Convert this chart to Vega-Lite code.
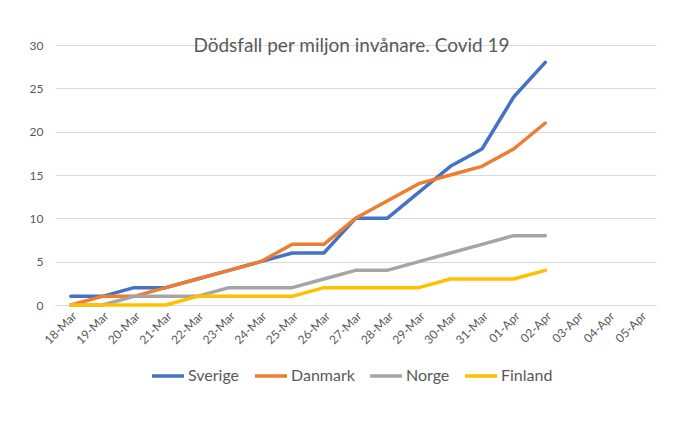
{
  "$schema": "https://vega.github.io/schema/vega-lite/v6.json",
  "width": 601,
  "height": 260,
  "autosize": {"type": "none"},
  "padding": {"left": 55, "top": 45, "right": 44, "bottom": 120},
  "background": "white",
  "title": {
    "text": "Dödsfall per miljon invånare. Covid 19",
    "anchor": "middle",
    "frame": "group",
    "offset": -17,
    "dx": -4,
    "font": "Lato",
    "fontSize": 19,
    "fontWeight": "normal",
    "color": "#595959"
  },
  "data": {
    "values": [
      {"land": "Sverige", "datum": "18-Mar", "v": 1},
      {"land": "Sverige", "datum": "19-Mar", "v": 1},
      {"land": "Sverige", "datum": "20-Mar", "v": 2},
      {"land": "Sverige", "datum": "21-Mar", "v": 2},
      {"land": "Sverige", "datum": "22-Mar", "v": 3},
      {"land": "Sverige", "datum": "23-Mar", "v": 4},
      {"land": "Sverige", "datum": "24-Mar", "v": 5},
      {"land": "Sverige", "datum": "25-Mar", "v": 6},
      {"land": "Sverige", "datum": "26-Mar", "v": 6},
      {"land": "Sverige", "datum": "27-Mar", "v": 10},
      {"land": "Sverige", "datum": "28-Mar", "v": 10},
      {"land": "Sverige", "datum": "29-Mar", "v": 13},
      {"land": "Sverige", "datum": "30-Mar", "v": 16},
      {"land": "Sverige", "datum": "31-Mar", "v": 18},
      {"land": "Sverige", "datum": "01-Apr", "v": 24},
      {"land": "Sverige", "datum": "02-Apr", "v": 28},
      {"land": "Danmark", "datum": "18-Mar", "v": 0},
      {"land": "Danmark", "datum": "19-Mar", "v": 1},
      {"land": "Danmark", "datum": "20-Mar", "v": 1},
      {"land": "Danmark", "datum": "21-Mar", "v": 2},
      {"land": "Danmark", "datum": "22-Mar", "v": 3},
      {"land": "Danmark", "datum": "23-Mar", "v": 4},
      {"land": "Danmark", "datum": "24-Mar", "v": 5},
      {"land": "Danmark", "datum": "25-Mar", "v": 7},
      {"land": "Danmark", "datum": "26-Mar", "v": 7},
      {"land": "Danmark", "datum": "27-Mar", "v": 10},
      {"land": "Danmark", "datum": "28-Mar", "v": 12},
      {"land": "Danmark", "datum": "29-Mar", "v": 14},
      {"land": "Danmark", "datum": "30-Mar", "v": 15},
      {"land": "Danmark", "datum": "31-Mar", "v": 16},
      {"land": "Danmark", "datum": "01-Apr", "v": 18},
      {"land": "Danmark", "datum": "02-Apr", "v": 21},
      {"land": "Norge", "datum": "18-Mar", "v": 0},
      {"land": "Norge", "datum": "19-Mar", "v": 0},
      {"land": "Norge", "datum": "20-Mar", "v": 1},
      {"land": "Norge", "datum": "21-Mar", "v": 1},
      {"land": "Norge", "datum": "22-Mar", "v": 1},
      {"land": "Norge", "datum": "23-Mar", "v": 2},
      {"land": "Norge", "datum": "24-Mar", "v": 2},
      {"land": "Norge", "datum": "25-Mar", "v": 2},
      {"land": "Norge", "datum": "26-Mar", "v": 3},
      {"land": "Norge", "datum": "27-Mar", "v": 4},
      {"land": "Norge", "datum": "28-Mar", "v": 4},
      {"land": "Norge", "datum": "29-Mar", "v": 5},
      {"land": "Norge", "datum": "30-Mar", "v": 6},
      {"land": "Norge", "datum": "31-Mar", "v": 7},
      {"land": "Norge", "datum": "01-Apr", "v": 8},
      {"land": "Norge", "datum": "02-Apr", "v": 8},
      {"land": "Finland", "datum": "18-Mar", "v": 0},
      {"land": "Finland", "datum": "19-Mar", "v": 0},
      {"land": "Finland", "datum": "20-Mar", "v": 0},
      {"land": "Finland", "datum": "21-Mar", "v": 0},
      {"land": "Finland", "datum": "22-Mar", "v": 1},
      {"land": "Finland", "datum": "23-Mar", "v": 1},
      {"land": "Finland", "datum": "24-Mar", "v": 1},
      {"land": "Finland", "datum": "25-Mar", "v": 1},
      {"land": "Finland", "datum": "26-Mar", "v": 2},
      {"land": "Finland", "datum": "27-Mar", "v": 2},
      {"land": "Finland", "datum": "28-Mar", "v": 2},
      {"land": "Finland", "datum": "29-Mar", "v": 2},
      {"land": "Finland", "datum": "30-Mar", "v": 3},
      {"land": "Finland", "datum": "31-Mar", "v": 3},
      {"land": "Finland", "datum": "01-Apr", "v": 3},
      {"land": "Finland", "datum": "02-Apr", "v": 4}
    ]
  },
  "mark": {"type": "line", "strokeWidth": 3.5, "strokeJoin": "round", "strokeCap": "round"},
  "encoding": {
    "x": {
      "field": "datum",
      "type": "ordinal",
      "scale": {
        "domain": ["18-Mar","19-Mar","20-Mar","21-Mar","22-Mar","23-Mar","24-Mar","25-Mar","26-Mar","27-Mar","28-Mar","29-Mar","30-Mar","31-Mar","01-Apr","02-Apr","03-Apr","04-Apr","05-Apr"],
        "paddingInner": 0,
        "paddingOuter": 0.5
      },
      "axis": {
        "title": null,
        "labelAngle": -45,
        "labelFont": "Lato",
        "labelFontSize": 12,
        "labelColor": "#595959",
        "labelPadding": 5,
        "ticks": false,
        "domainColor": "#d9d9d9",
        "domainWidth": 1,
        "grid": false
      }
    },
    "y": {
      "field": "v",
      "type": "quantitative",
      "scale": {"domain": [0, 30], "nice": false},
      "axis": {
        "title": null,
        "values": [0, 5, 10, 15, 20, 25, 30],
        "labelFont": "Lato",
        "labelFontSize": 12,
        "labelColor": "#595959",
        "labelPadding": 12,
        "ticks": false,
        "domain": false,
        "gridColor": "#d9d9d9",
        "gridWidth": 1
      }
    },
    "color": {
      "field": "land",
      "type": "nominal",
      "scale": {
        "domain": ["Sverige", "Danmark", "Norge", "Finland"],
        "range": ["#4472C4", "#ED7D31", "#A5A5A5", "#FFC000"]
      },
      "legend": {
        "title": null,
        "orient": "none",
        "direction": "horizontal",
        "legendX": 95,
        "legendY": 313,
        "symbolType": "stroke",
        "symbolSize": 1024,
        "symbolStrokeWidth": 3.5,
        "labelFont": "Lato",
        "labelFontSize": 16,
        "labelColor": "#595959",
        "labelOffset": 2,
        "columnPadding": 8
      }
    }
  },
  "config": {
    "view": {"stroke": null}
  }
}
